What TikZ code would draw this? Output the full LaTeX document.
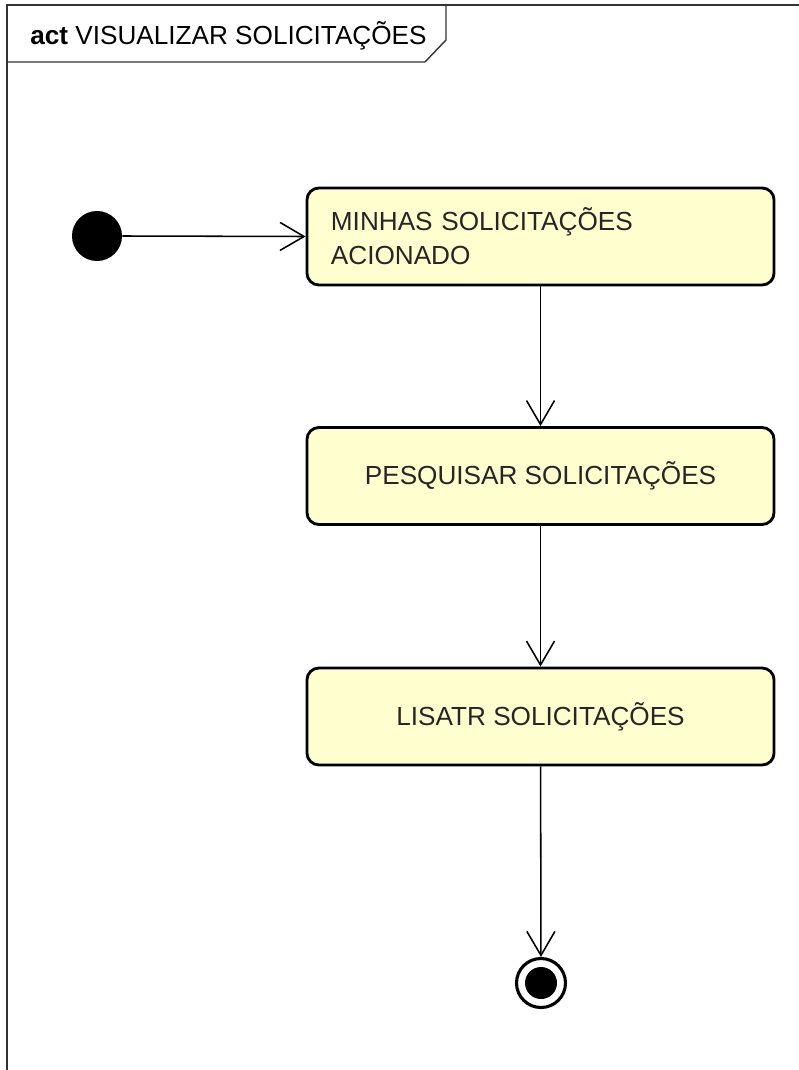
\documentclass[tikz,border=0pt]{standalone}
\usepackage{fontspec}
\setmainfont{Liberation Sans}
\usetikzlibrary{arrows.meta}

\definecolor{actfill}{HTML}{FEFECE}

\begin{document}
\begin{tikzpicture}[x=0.025cm,y=-0.025cm,
        action/.style={draw,line width=2pt,rounded corners=0.3cm,fill=actfill,
            minimum width=11.675cm,minimum height=2.425cm,
            font=\fontsize{18.6}{24}\selectfont,text=black!85},
        flow/.style={line width=1.1pt,-{Straight Barb[length=0.6cm,width=0.7cm]}}]
        \useasboundingbox (0,0) rectangle (799,1070);

        % frame and name tab
        \draw[line width=1pt,black!80] (7,1075) -- (7,5) -- (805,5);
        \draw[line width=1pt,black!80] (7,62) -- (425,62) -- (446,40) -- (446,5);
        \node[anchor=base west,inner sep=0,font=\fontsize{18.6}{22}\selectfont] (titulo) at (30,45)
            {\textbf{act} VISUALIZAR SOLICITAÇÕES};

        % initial and final nodes
        \node[circle,fill=black,minimum size=1.25cm,inner sep=0] (inicio) at (97,236) {};
        \node[circle,draw,line width=2.2pt,minimum size=1.225cm,inner sep=0] (fim) at (541,983) {};
        \fill (fim) circle (16);

        % actions
        \node[action,text width=10.475cm,align=left] (minhas) at (540.5,236.5)
            {MINHAS SOLICITAÇÕES\\ACIONADO};
        \node[action] (pesquisar) at (540.5,476) {PESQUISAR SOLICITAÇÕES};
        \node[action] (listar) at (540.5,716.5) {LISATR SOLICITAÇÕES};

        \draw[flow] (inicio.east) -- (minhas.west);
        \draw[flow] (minhas) -- (pesquisar);
        \draw[flow] (pesquisar) -- (listar);
        \draw[flow] (listar) -- (fim);
    \end{tikzpicture}
\end{document}
